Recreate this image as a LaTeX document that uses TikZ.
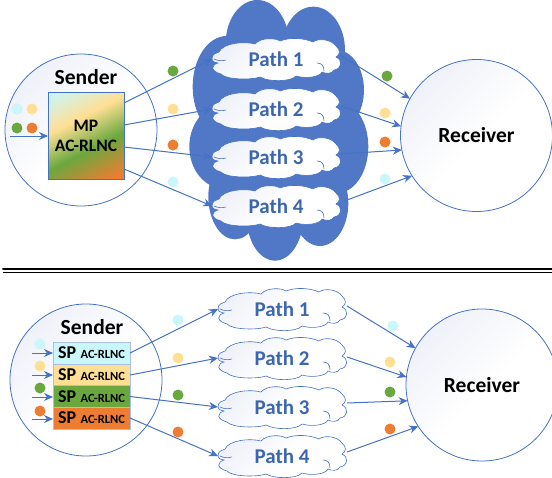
\documentclass[tikz,border=0pt]{standalone}
\usepackage{fontspec}
\setmainfont{Carlito}
\usetikzlibrary{arrows.meta}
\definecolor{cy}{HTML}{C9F7FB}
\definecolor{ye}{HTML}{FFDF94}
\definecolor{gr}{HTML}{6AA83F}
\definecolor{or}{HTML}{ED7D31}
\definecolor{bl}{HTML}{4472C4}
\definecolor{blobc}{HTML}{5078C6}
\definecolor{pathc}{HTML}{3C66AE}
\definecolor{soft}{HTML}{EDEFF8}
\pgfdeclarehorizontalshading{softgrad}{100bp}{color(0bp)=(soft); color(20bp)=(soft); color(52bp)=(white); color(100bp)=(white)}
\pgfdeclarehorizontalshading{mpgrad}{100bp}{color(0bp)=(cy); color(18bp)=(cy); color(39bp)=(ye); color(58.5bp)=(gr); color(80bp)=(or); color(100bp)=(or)}
\tikzset{
  x=1pt,y=-1pt,
  link/.style={draw=bl,line width=1pt,-{Stealth[length=9pt,width=8pt]}},
  disk/.style={circle,draw=bl,line width=0.8pt,minimum size=152pt,inner sep=0pt,outer sep=0pt,shading=softgrad,shading angle=-45,font=\bfseries\fontsize{21.5}{24}\selectfont},
  dot/.style={circle,minimum size=11pt,inner sep=0pt,outer sep=0pt},
  cloudline/.style={draw=bl,line width=0.6pt},
  pathlabel/.style={minimum width=128pt,minimum height=40pt,inner sep=0pt,outer sep=0pt,text=pathc,font=\bfseries\fontsize{21}{24}\selectfont},
  row/.style={draw=bl!45,line width=0.5pt,minimum width=77pt,minimum height=22pt,inner sep=0pt,outer sep=0pt},
  heading/.style={font=\bfseries\fontsize{21.5}{24}\selectfont,inner sep=0pt},
}
\newcommand\mycloud[4]{%
  \path[cloudline,shading=softgrad,shading angle=-45,shift={(#2,#3)}] (-64,0)
   .. controls (-64,-5) and (-60,-6) .. (-57,-7)
   .. controls (-53,-16) and (-32,-18) .. (-21,-15)
   .. controls (-15,-22) and (0,-21) .. (4,-18)
   .. controls (14,-22) and (28,-21) .. (37,-17)
   .. controls (42,-21) and (55,-20) .. (60,-13)
   .. controls (65,-9) and (64,-4) .. (60,-2)
   .. controls (67,1) and (66,10) .. (58,11)
   .. controls (56,15) and (50,15) .. (46,13)
   .. controls (44,18) and (30,20) .. (20,17)
   .. controls (15,23) and (-8,23) .. (-16,18)
   .. controls (-24,21) and (-50,21) .. (-55,15)
   .. controls (-66,12) and (-65,6) .. (-58,4)
   .. controls (-63,3) and (-64,2) .. (-64,0) -- cycle;
  \draw[cloudline,shift={(#2,#3)}] (-62,0) .. controls (-58,2) and (-54,2) .. (-50,1);
  \draw[cloudline,shift={(#2,#3)}] (41,4) .. controls (46,4) and (48,7) .. (48,12);
  \node[pathlabel] (#1) at (#2,#3) {#4};
}
\begin{document}
\begin{tikzpicture}
\useasboundingbox (0,0) rectangle (552,477);
% ---- blob
\begin{scope}[shift={(180,0)},x=0.3333pt,y=-0.3333pt]
 \fill[blobc] (232,130) ellipse [x radius=95,y radius=130];
 \fill[blobc] (400,150) ellipse [x radius=95,y radius=130];
 \fill[blobc] (140,260) ellipse [x radius=102,y radius=152];
 \fill[blobc] (470,270) ellipse [x radius=82,y radius=120];
 \fill[blobc] (130,440) ellipse [x radius=102,y radius=125];
 \fill[blobc] (470,440) ellipse [x radius=95,y radius=140];
 \fill[blobc] (165,590) ellipse [x radius=80,y radius=128];
 \fill[blobc] (285,650) ellipse [x radius=85,y radius=132];
 \fill[blobc] (420,610) ellipse [x radius=85,y radius=128];
 \fill[blobc] (120,150) rectangle (480,620);
\end{scope}
% ---- top half
\node[disk] (send) at (81,130) {};
\node[disk] (recv) at (476.5,135.5) {Receiver};
\node[heading] (sendl) at (86,77) {Sender};
\node[draw=bl,line width=0.8pt,minimum width=76pt,minimum height=87pt,inner sep=0pt,outer sep=0pt,shading=mpgrad,shading angle=-63,font=\bfseries\fontsize{17.5}{20}\selectfont,align=center] (mp) at (86,135.5) {MP\\AC-RLNC};
\mycloud{ca}{276}{59}{Path 1}
\mycloud{cb}{276}{109}{Path 2}
\mycloud{cc}{276}{157}{Path 3}
\mycloud{cd}{276}{206}{Path 4}
\node[dot,fill=cy,draw=cy!70!gray!40] (d1) at (17,109) {};
\node[dot,fill=ye] (d2) at (32,109) {};
\node[dot,fill=gr] (d3) at (17,128) {};
\node[dot,fill=or] (d4) at (32,128) {};
\node[dot,fill=gr] (d5) at (173,71) {};
\node[dot,fill=ye] (d6) at (173,109) {};
\node[dot,fill=or] (d7) at (173,145) {};
\node[dot,fill=cy] (d8) at (173,182) {};
\node[dot,fill=gr] (d9) at (387,76) {};
\node[dot,fill=ye] (d10) at (385,113) {};
\node[dot,fill=or] (d11) at (385,142) {};
\node[dot,fill=cy] (d12) at (385,179) {};
\coordinate (in) at (10,136);
\coordinate (o1) at (124,103);
\coordinate (o2) at (124,125);
\coordinate (o3) at (124,147);
\coordinate (o4) at (124,169);
\draw[link] (in) -- (mp.west |- in);
\draw[link] (o1) -- (ca.west);
\draw[link] (o2) -- (cb.west);
\draw[link] (o3) -- (cc.west);
\draw[link] (o4) -- (cd.west);
\coordinate (e1) at (340,55);
\coordinate (e2) at (341,106);
\coordinate (e3) at (340,154);
\coordinate (e4) at (347,200);
\draw[link] (e1) -- (recv.151.6);
\draw[link] (e2) -- (recv.173.5);
\draw[link] (e3) -- (recv.191.8);
\draw[link] (e4) -- (recv.212.8);
% ---- divider
\coordinate (la) at (3,269);
\coordinate (lb) at (552,269);
\coordinate (lc) at (3,272.5);
\coordinate (ld) at (552,272.5);
\draw[line width=2pt,black,line cap=round] (la) -- (lb);
\draw[line width=0.8pt,black] (lc) -- (ld);
% ---- bottom half
\node[disk] (send2) at (86,380) {};
\node[disk] (recv2) at (482,385) {Receiver};
\node[heading] (sendl2) at (92,327) {Sender};
\newcommand\spcontent{{\fontsize{18}{18}\selectfont\bfseries SP}\hspace{4.5pt}{\fontsize{12.5}{14}\selectfont\bfseries AC-RLNC}}
\node[row,fill=cy] (r1) at (91.5,353) {\spcontent};
\node[row,fill=ye] (r2) at (91.5,375) {\spcontent};
\node[row,fill=gr] (r3) at (91.5,396.5) {\spcontent};
\node[row,fill=or] (r4) at (91.5,418) {\spcontent};
\mycloud{pa}{282}{309}{Path 1}
\mycloud{pb}{282}{358}{Path 2}
\mycloud{pc}{282}{407}{Path 3}
\mycloud{pd}{282}{456}{Path 4}
\node[dot,fill=cy] (g1) at (40,344) {};
\node[dot,fill=ye] (g2) at (40,366) {};
\node[dot,fill=gr] (g3) at (40,388) {};
\node[dot,fill=or] (g4) at (40,411) {};
\node[dot,fill=cy] (g5) at (178,320) {};
\node[dot,fill=ye] (g6) at (178,358) {};
\node[dot,fill=gr] (g7) at (178,395) {};
\node[dot,fill=or] (g8) at (178,432) {};
\node[dot,fill=cy] (g9) at (393,326) {};
\node[dot,fill=ye] (g10) at (390,362) {};
\node[dot,fill=gr] (g11) at (390,392) {};
\node[dot,fill=or] (g12) at (390,429) {};
\coordinate (i1) at (32,353);
\coordinate (i2) at (32,375);
\coordinate (i3) at (32,397);
\coordinate (i4) at (32,419);
\draw[link] (i1) -- (r1.west |- i1);
\draw[link] (i2) -- (r2.west |- i2);
\draw[link] (i3) -- (r3.west |- i3);
\draw[link] (i4) -- (r4.west |- i4);
\draw[link] (r1.east) -- (pa.west);
\draw[link] (r2.east) -- (pb.west);
\draw[link] (r3.east) -- (pc.west);
\draw[link] (r4.east) -- (pd.west);
\coordinate (f1) at (347,306);
\coordinate (f2) at (347,357);
\coordinate (f3) at (347,403);
\coordinate (f4) at (347,452);
\draw[link] (f1) -- (recv2.151);
\draw[link] (f2) -- (recv2.174);
\draw[link] (f3) -- (recv2.192);
\draw[link] (f4) -- (recv2.213);
\end{tikzpicture}
\end{document}
